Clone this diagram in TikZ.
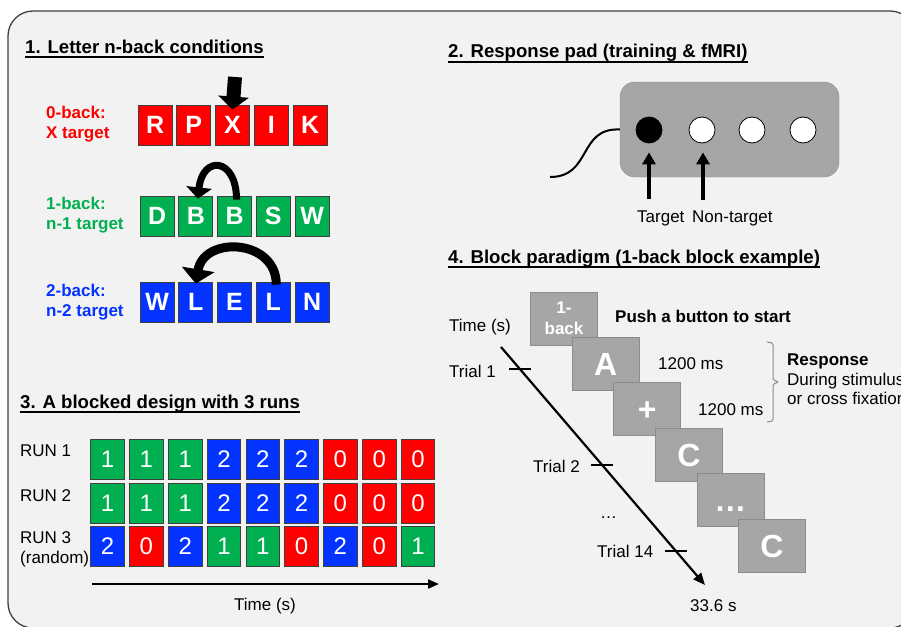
\documentclass[tikz,border=0pt]{standalone}
\usepackage{fontspec}
\setmainfont{Liberation Sans}
\usetikzlibrary{arrows.meta}

\definecolor{panel}{HTML}{F2F2F2}
\definecolor{rimgray}{HTML}{404040}
\definecolor{cond0}{HTML}{FF0000}
\definecolor{cond1}{HTML}{00B050}
\definecolor{cond2}{HTML}{0433FF}
\definecolor{stimgray}{HTML}{A6A6A6}
\definecolor{stimrim}{HTML}{8C8C8C}

\newcommand{\fsz}[1]{\fontsize{#1}{#1}\selectfont}

\begin{document}
\begin{tikzpicture}[x=1pt, y=-1pt,
    title/.style={font=\fsz{18.6}\bfseries, anchor=base west, inner sep=0pt},
    lbl/.style={font=\fsz{17}, anchor=base west, inner sep=0pt},
    condlbl/.style={font=\fsz{17}\bfseries, anchor=base west, inner sep=0pt},
    letterbox/.style={draw=rimgray, line width=0.8pt, minimum width=34pt, minimum height=40pt,
        inner sep=0pt, text=white, font=\fsz{25}\bfseries},
    cell/.style={draw=rimgray, line width=0.8pt, minimum width=33.5pt, minimum height=40pt,
        inner sep=0pt, text=white, font=\fsz{24}},
    stim/.style={draw=stimrim, fill=stimgray, line width=0.8pt, minimum width=67pt,
        minimum height=53pt, inner sep=0pt, text=white},
    bigtxt/.style={font=\fsz{32}\bfseries, text height=23pt, text depth=0pt},
    button/.style={circle, draw=black, line width=0.8pt, minimum size=26pt, inner sep=0pt},
    bendarrow/.style={line width=#1, -{Triangle[length=1.6*#1, width=3.6*#1]}},
]
    \useasboundingbox (0,0) rectangle (901,626);
    \clip (0,0) rectangle (901,626);

    % Hintergrund
    \draw[draw=rimgray, fill=panel, line width=1.3pt, rounded corners=25pt] (8,11) rectangle (915,628);

    % Titel
    \node[title] (t1) at (25,53) {1. Letter n-back conditions};
    \node[title] (t2) at (448,58) {2. Response pad (training \& fMRI)};
    \node[title] (t3) at (20,408) {3. A blocked design with 3 runs};
    \node[title] (t4) at (448,263) {4. Block paradigm (1-back block example)};
    \foreach \t in {t1,t2,t3,t4}
        \draw[line width=1.5pt] ([yshift=-4pt]\t.base west) -- ([yshift=-4pt]\t.base east);

    % 1. n-back
    \node[condlbl, text=cond0] (l0a) at (46,118) {0-back:};
    \node[condlbl, text=cond0] (l0b) at (46,138) {X target};
    \node[condlbl, text=cond1] (l1a) at (46,209) {1-back:};
    \node[condlbl, text=cond1] (l1b) at (46,229) {n-1 target};
    \node[condlbl, text=cond2] (l2a) at (46,296) {2-back:};
    \node[condlbl, text=cond2] (l2b) at (46,316) {n-2 target};

    \foreach \ch [count=\i] in {R,P,X,I,K}
        \node[letterbox, fill=cond0] (z\i) at ({116.3+38.75*\i},125) {\ch};
    \foreach \ch [count=\i] in {D,B,B,S,W}
        \node[letterbox, fill=cond1] (o\i) at ({118.3+38.75*\i},216) {\ch};
    \foreach \ch [count=\i] in {W,L,E,L,N}
        \node[letterbox, fill=cond2] (w\i) at ({118.3+38.75*\i},302) {\ch};

    % Pfeile
    \coordinate (xtop) at (235,77);
    \draw[line width=14pt, -{Triangle[length=13pt, width=30pt]}] (xtop) -- ([yshift=-5pt]z3.north);
    \draw[bendarrow=7pt] ([xshift=2pt,yshift=-4pt]o3.north) .. controls +(0,-42) and +(5,-44) .. ([xshift=2pt,yshift=-3pt]o2.north);
    \draw[bendarrow=9pt] ([xshift=3pt,yshift=-3pt]w4.north) .. controls +(0,-46) and +(8,-48) .. ([yshift=-2pt]w2.north);

    % 2. Antwortpad
    \node[draw=stimrim, fill=stimgray, rounded corners=15pt, minimum width=219pt, minimum height=95pt] (pad) at (729.5,129.5) {};
    \node[button, fill=black] (b1) at (649,130) {};
    \node[button, fill=white] (b2) at (702,130) {};
    \node[button, fill=white] (b3) at (752,130) {};
    \node[button, fill=white] (b4) at (803,130) {};
    \coordinate (plug) at (550,177);
    \draw[line width=2pt] (pad.west) .. controls +(-42,-2) and +(42,0) .. (plug);
    \coordinate (ta) at (649,199);
    \coordinate (na) at (703,200);
    \draw[line width=3.5pt, -{Triangle[length=12pt, width=13pt]}] (ta) -- ([yshift=-9pt]b1.south);
    \draw[line width=3.5pt, -{Triangle[length=12pt, width=13pt]}] (na) -- ([xshift=1pt,yshift=-9pt]b2.south);
    \node[lbl] (tgt) at (637,222) {Target};
    \node[lbl] (ntgt) at (692,222) {Non-target};

    % 3. Blockdesign
    \node[lbl] (run1) at (20,456) {RUN 1};
    \node[lbl] (run2) at (20,501) {RUN 2};
    \node[lbl] (run3) at (20,543) {RUN 3};
    \node[lbl] (rnd) at (20,563) {(random)};
    \foreach \y/\seq [count=\r] in {459/{1,1,1,2,2,2,0,0,0}, 503/{1,1,1,2,2,2,0,0,0}, 546/{2,0,2,1,1,0,2,0,1}}
        \foreach \v [count=\c] in \seq
            \node[cell, fill=cond\v] (r\r c\c) at ({68.8+38.8*\c},\y) {\v};
    \coordinate (ax0) at (92,584);
    \coordinate (ax1) at (439,584);
    \draw[line width=2pt, -{Triangle[length=11pt, width=9pt]}] (ax0) -- (ax1);
    \node[lbl, anchor=base] (axl) at (265,610) {Time (s)};

    % 4. Blockparadigma
    \node[stim, font=\fsz{17}\bfseries, align=center] (s0) at (564,318.5) {1-\\[4pt]back};
    \foreach \t [count=\i] in {A,+,C,\dots,C}
        \node[stim, bigtxt] (s\i) at ({564+41.6*\i},{318.5+45.4*\i}) {\t};
    \node[lbl, font=\fsz{17}\bfseries] (push) at (615,322) {Push a button to start};
    \node[lbl] (d1) at (658,369) {1200 ms};
    \node[lbl] (d2) at (698,415) {1200 ms};
    \draw[stimrim, line width=1pt, rounded corners=1.5pt] (767,342) -- (773,343) -- (773,380) -- (779,382) -- (773,384) -- (773,421) -- (767,422);
    \node[lbl, font=\fsz{17}\bfseries] (resp) at (787,365) {Response};
    \node[lbl] (resp2) at (787,385) {During stimulus};
    \node[lbl] (resp3) at (787,404) {or cross fixation};

    \node[lbl] (time) at (449,331) {Time (s)};
    \coordinate (tl0) at (501,347);
    \coordinate (tl1) at (705,585);
    \draw[line width=2.2pt, -{Triangle[length=12pt, width=10pt]}] (tl0) -- (tl1)
        coordinate[pos=0.092] (k1) coordinate[pos=0.496] (k2) coordinate[pos=0.857] (k3);
    \foreach \k in {k1,k2,k3}
        \draw[line width=1.2pt] ([xshift=-11pt]\k) -- ([xshift=11pt]\k);
    \node[lbl] (tr1) at (449,377) {Trial 1};
    \node[lbl] (tr2) at (533,472) {Trial 2};
    \node[lbl] (trd) at (600,518) {\dots};
    \node[lbl] (tr14) at (597,557) {Trial 14};
    \node[lbl] (tend) at (690,611) {33.6 s};
\end{tikzpicture}
\end{document}
